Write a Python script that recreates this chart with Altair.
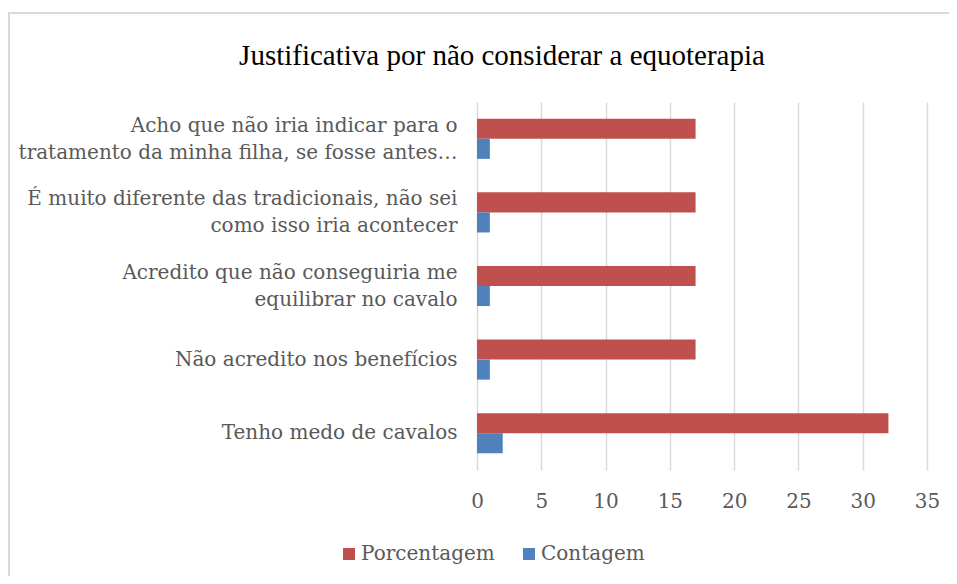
import altair as alt
import pandas as pd

categories = [
    "Acho que não iria indicar para o\ntratamento da minha filha, se fosse antes…",
    "É muito diferente das tradicionais, não sei\ncomo isso iria acontecer",
    "Acredito que não conseguiria  me\nequilibrar no cavalo",
    "Não acredito nos benefícios",
    "Tenho medo de cavalos",
]
porcentagem = [17, 17, 17, 17, 32]
contagem = [1, 1, 1, 1, 2]
series = ["Porcentagem", "Contagem"]
colors = ["#C0504D", "#4F81BD"]

rows = []
for c, p, n in zip(categories, porcentagem, contagem):
    rows.append({"cat": c, "serie": "Porcentagem", "valor": p})
    rows.append({"cat": c, "serie": "Contagem", "valor": n})
df = pd.DataFrame(rows)

LABEL_FONT = "DejaVu Serif"
GRAY = "#595959"

bars = alt.Chart(df).mark_bar(cornerRadius=0).encode(
    x=alt.X("valor:Q",
            scale=alt.Scale(domain=[0, 35], nice=False),
            axis=alt.Axis(values=[0, 5, 10, 15, 20, 25, 30, 35], title=None,
                          grid=True, gridColor="#D9D9D9", gridWidth=1.5,
                          domain=False, ticks=False, labelFlush=False,
                          labelFont=LABEL_FONT,
                          labelFontSize=20, labelColor=GRAY, labelPadding=21)),
    y=alt.Y("cat:N", sort=categories,
            scale=alt.Scale(paddingInner=0.455, paddingOuter=0.2275),
            axis=alt.Axis(title=None, domain=False, ticks=False, grid=False,
                          labelExpr="split(datum.label, '\\n')",
                          labelFont=LABEL_FONT, labelFontSize=20,
                          labelColor=GRAY, labelLineHeight=27,
                          labelOffset={"condition": {"test": "indexof(datum.value, '\\n') >= 0",
                                                     "value": -13},
                                       "value": 0},
                          labelAlign="right", labelPadding=20, labelLimit=600)),
    yOffset=alt.YOffset("serie:N", sort=series, scale=alt.Scale(padding=0)),
    color=alt.Color("serie:N", sort=series,
                    scale=alt.Scale(domain=series, range=colors),
                    legend=alt.Legend(title=None, orient="none", direction="horizontal",
                                      legendX=-138, legendY=442,
                                      symbolType="square", symbolSize=144,
                                      symbolStrokeWidth=0, symbolOpacity=1,
                                      labelFont=LABEL_FONT, labelFontSize=20,
                                      labelColor=GRAY, labelOffset=2,
                                      columnPadding=24)),
)

border = alt.Chart(alt.Data(values=[{}])).mark_rect(
    fill=None, stroke="#D9D9D9", strokeWidth=2
).encode(
    x=alt.value(-468), x2=alt.value(600), y=alt.value(-89), y2=alt.value(600)
)

chart = alt.layer(border, bars).properties(
    width=450, height=368,
    title=alt.TitleParams("Justificativa por não considerar a equoterapia",
                          font="Liberation Serif", fontSize=29, fontWeight="normal",
                          color="#000000", anchor="middle", frame="group",
                          baseline="alphabetic", dx=-200, offset=-82),
    autosize=alt.AutoSizeParams(type="none"),
    padding={"left": 469, "top": 94, "right": 22, "bottom": 106},
).configure(background="white").configure_view(stroke=None)

chart.save("out.html", embed_options={"renderer": "svg", "actions": False})
